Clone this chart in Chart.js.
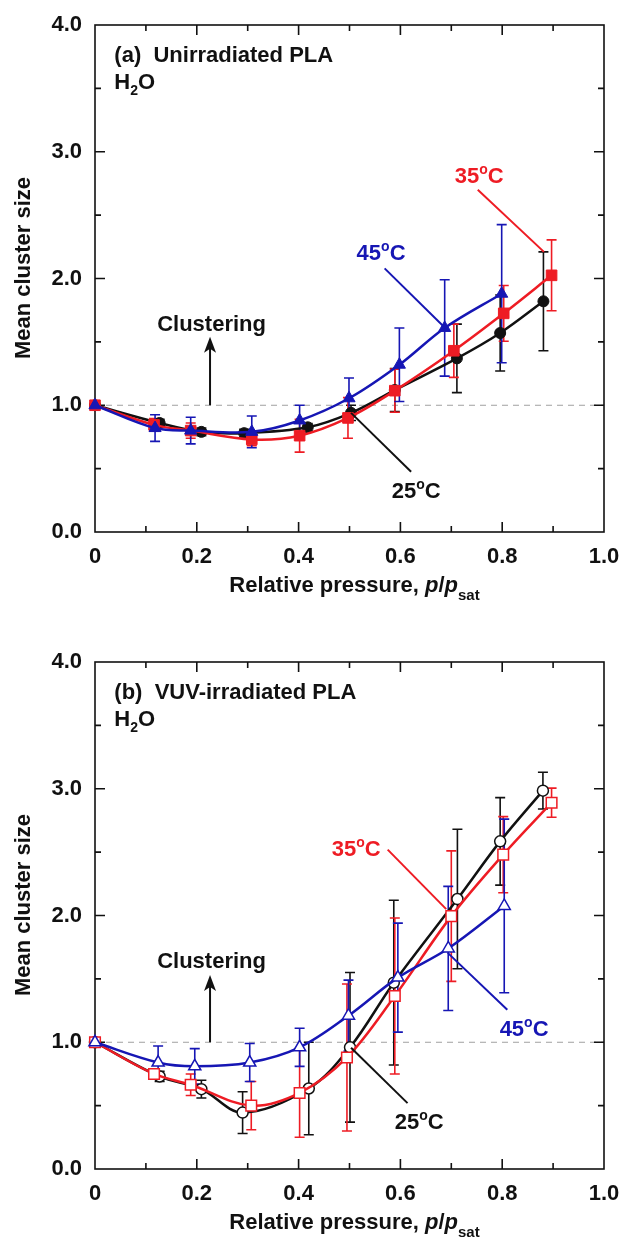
<!DOCTYPE html>
<html>
<head>
<meta charset="utf-8">
<script src="https://cdn.jsdelivr.net/npm/chart.js@4.4.1/dist/chart.umd.min.js"></script>
<style>
  body { margin: 0; background: #fff; }
  #wrap { position: relative; width: 624px; height: 1239px; }
  canvas { position: absolute; left: 0; }
</style>
</head>
<body>
<div id="wrap">
  <canvas id="chartA" width="624" height="620" style="top:0"></canvas>
  <canvas id="chartB" width="624" height="619" style="top:620px"></canvas>
</div>
<script>
// ---- tick labels ----
const xTicks = [0, 0.2, 0.4, 0.6, 0.8, 1.0];
const yTicks = [0, 1, 2, 3, 4];

// ---- (a) unirradiated PLA ----
const x25a = [0, 0.127, 0.209, 0.293, 0.418, 0.503, 0.589, 0.711, 0.796, 0.881];
const y25a = [1.0, 0.86, 0.79, 0.78, 0.826, 0.94, 1.12, 1.37, 1.57, 1.82];
const e25a = [0, 0.03, 0.03, 0.03, 0.03, 0.06, 0.17, 0.27, 0.30, 0.39];

const x35a = [0, 0.116, 0.188, 0.308, 0.402, 0.497, 0.589, 0.705, 0.803, 0.897];
const y35a = [1.0, 0.845, 0.80, 0.73, 0.76, 0.90, 1.115, 1.43, 1.725, 2.025];
const e35a = [0, 0.05, 0.06, 0.05, 0.13, 0.16, 0.17, 0.21, 0.22, 0.28];

const x45a = [0, 0.118, 0.188, 0.308, 0.402, 0.499, 0.598, 0.687, 0.799];
const y45a = [1.0, 0.82, 0.80, 0.79, 0.88, 1.055, 1.32, 1.61, 1.88];
const e45a = [0, 0.105, 0.105, 0.125, 0.12, 0.16, 0.29, 0.38, 0.545];

// ---- (b) VUV-irradiated PLA ----
const x25b = [0, 0.127, 0.209, 0.29, 0.42, 0.501, 0.587, 0.712, 0.796, 0.88];
const y25b = [1.0, 0.73, 0.63, 0.445, 0.635, 0.96, 1.47, 2.13, 2.585, 2.985];
const e25b = [0, 0.04, 0.07, 0.165, 0.365, 0.59, 0.65, 0.55, 0.345, 0.145];

const x35b = [0, 0.116, 0.188, 0.307, 0.402, 0.495, 0.589, 0.70, 0.802, 0.897];
const y35b = [1.0, 0.75, 0.665, 0.50, 0.60, 0.88, 1.365, 1.995, 2.48, 2.89];
const e35b = [0, 0.03, 0.085, 0.19, 0.35, 0.58, 0.615, 0.515, 0.30, 0.115];

const x45b = [0, 0.124, 0.196, 0.304, 0.402, 0.498, 0.595, 0.694, 0.804];
const y45b = [1.0, 0.84, 0.81, 0.84, 0.96, 1.21, 1.51, 1.74, 2.075];
const e45b = [0, 0.13, 0.14, 0.15, 0.15, 0.28, 0.43, 0.49, 0.685];

const BLACK = '#111111', RED = '#ee1c24', BLUE = '#1616b4';
const FONT = '"Liberation Sans", Arial, sans-serif';
const F = (s, style) => (style || '') + ' bold ' + s + 'px ' + FONT;

function pts(xs, ys) { return xs.map((x, i) => ({ x: x, y: ys[i] })); }

function series(label, xs, ys, err, color, style, radius, open, order) {
  return {
    label: label,
    data: pts(xs, ys),
    err: err,
    order: order,
    borderColor: color,
    backgroundColor: color,
    borderWidth: 2.5,
    tension: 0.35,
    pointStyle: style,
    pointRadius: radius,
    pointHoverRadius: radius,
    pointBackgroundColor: open ? '#ffffff' : color,
    pointBorderColor: color,
    pointBorderWidth: open ? 1.5 : 1,
    clip: false
  };
}

// draws runs of text with different fonts / offsets on one baseline
function richText(ctx, parts, x, y, align) {
  let w = 0;
  parts.forEach(p => { ctx.font = p.f; p.w = ctx.measureText(p.t).width; w += p.w; });
  let cx = align === 'center' ? x - w / 2 : x;
  ctx.textAlign = 'left';
  ctx.textBaseline = 'alphabetic';
  parts.forEach(p => { ctx.font = p.f; ctx.fillText(p.t, cx, y + (p.dy || 0)); cx += p.w; });
}

function degLabel(num) {
  return [{ t: num, f: F(22) }, { t: 'o', f: F(14), dy: -9 }, { t: 'C', f: F(22) }];
}

const framePlugin = {
  id: 'frame',
  beforeDatasetsDraw(chart) {
    const { ctx, chartArea: a, scales: { x, y } } = chart;
    ctx.save();
    // dashed line at mean cluster size = 1
    ctx.strokeStyle = '#a0a0a0';
    ctx.lineWidth = 1;
    ctx.setLineDash([6, 5]);
    const y1 = y.getPixelForValue(1);
    ctx.beginPath(); ctx.moveTo(a.left, y1); ctx.lineTo(a.right, y1); ctx.stroke();
    ctx.setLineDash([]);

    // error bars
    chart.data.datasets.forEach(ds => {
      ctx.strokeStyle = ds.borderColor;
      ctx.lineWidth = 1.6;
      ds.data.forEach((p, i) => {
        const e = ds.err[i];
        if (!e) return;
        const px = x.getPixelForValue(p.x);
        const t = y.getPixelForValue(p.y + e), b = y.getPixelForValue(p.y - e);
        ctx.beginPath();
        ctx.moveTo(px, t); ctx.lineTo(px, b);
        ctx.moveTo(px - 5, t); ctx.lineTo(px + 5, t);
        ctx.moveTo(px - 5, b); ctx.lineTo(px + 5, b);
        ctx.stroke();
      });
    });

    // frame and inward ticks on all four sides
    ctx.strokeStyle = '#111';
    ctx.lineWidth = 1.6;
    ctx.strokeRect(a.left, a.top, a.right - a.left, a.bottom - a.top);
    ctx.beginPath();
    for (let i = 1; i < 10; i++) {
      const px = x.getPixelForValue(i / 10);
      const len = i % 2 === 0 ? 10 : 6;
      ctx.moveTo(px, a.bottom); ctx.lineTo(px, a.bottom - len);
      ctx.moveTo(px, a.top); ctx.lineTo(px, a.top + len);
    }
    for (let i = 1; i < 8; i++) {
      const py = y.getPixelForValue(i / 2);
      const len = i % 2 === 0 ? 10 : 6;
      ctx.moveTo(a.left, py); ctx.lineTo(a.left + len, py);
      ctx.moveTo(a.right, py); ctx.lineTo(a.right - len, py);
    }
    ctx.stroke();
    ctx.restore();
  },
  afterDatasetsDraw(chart) {
    const { ctx, chartArea: a, scales: { x, y } } = chart;
    const opt = chart.options.plugins.frame;
    const X = v => x.getPixelForValue(v), Y = v => y.getPixelForValue(v);
    ctx.save();
    ctx.fillStyle = '#111';

    // panel heading
    richText(ctx, [{ t: opt.heading, f: F(22) }], X(0.038), Y(3.775) + 8, 'left');
    richText(ctx, [{ t: 'H', f: F(22) }, { t: '2', f: F(14), dy: 6 }, { t: 'O', f: F(22) }],
      X(0.038), Y(3.56) + 8, 'left');

    // clustering arrow
    richText(ctx, [{ t: 'Clustering', f: F(22) }], X(0.229), Y(1.65) + 8, 'center');
    ctx.strokeStyle = '#111';
    ctx.lineWidth = 2;
    const ax = X(0.226), tip = Y(opt.arrowTip);
    ctx.beginPath(); ctx.moveTo(ax, Y(1)); ctx.lineTo(ax, tip + 4); ctx.stroke();
    ctx.beginPath();
    ctx.moveTo(ax, tip); ctx.lineTo(ax - 6, tip + 16); ctx.lineTo(ax, tip + 12); ctx.lineTo(ax + 6, tip + 16);
    ctx.closePath(); ctx.fill();

    // temperature labels with leader lines
    opt.labels.forEach(l => {
      ctx.strokeStyle = l.color;
      ctx.fillStyle = l.color;
      ctx.lineWidth = 2;
      ctx.beginPath(); ctx.moveTo(X(l.from[0]), Y(l.from[1])); ctx.lineTo(X(l.to[0]), Y(l.to[1])); ctx.stroke();
      richText(ctx, degLabel(l.text), X(l.at[0]), Y(l.at[1]) + 8, 'center');
    });

    // axis titles
    ctx.fillStyle = '#111';
    richText(ctx, [
      { t: 'Relative pressure, ', f: F(22) },
      { t: 'p', f: F(22, 'italic') }, { t: '/', f: F(22) }, { t: 'p', f: F(22, 'italic') },
      { t: 'sat', f: F(15), dy: 8 }
    ], (a.left + a.right) / 2 + 5, a.bottom + 60, 'center');
    ctx.translate(22, a.top + 243);
    ctx.rotate(-Math.PI / 2);
    richText(ctx, [{ t: 'Mean cluster size', f: F(22) }], 0, 8, 'center');
    ctx.restore();
  }
};

function makePanel(id, datasets, opt, padTop, axisH) {
  return new Chart(document.getElementById(id), {
    type: 'line',
    data: { datasets: datasets },
    plugins: [framePlugin],
    options: {
      responsive: false,
      animation: false,
      devicePixelRatio: 1,
      layout: { padding: { left: 0, right: 20, top: padTop, bottom: 0 } },
      plugins: { legend: { display: false }, tooltip: { enabled: false }, frame: opt },
      scales: {
        x: {
          type: 'linear', min: 0, max: 1,
          grid: { display: false, drawTicks: false },
          border: { display: false },
          afterBuildTicks: s => { s.ticks = xTicks.map(v => ({ value: v })); },
          afterFit: s => { s.height = axisH; s.paddingLeft = 0; s.paddingRight = 0; },
          ticks: {
            autoSkip: false, maxRotation: 0, padding: 12, color: '#111',
            font: { family: FONT, size: 22, weight: 'bold' },
            callback: v => (v === 0 ? '0' : v.toFixed(1))
          }
        },
        y: {
          type: 'linear', min: 0, max: 4,
          grid: { display: false, drawTicks: false },
          border: { display: false },
          afterBuildTicks: s => { s.ticks = yTicks.map(v => ({ value: v })); },
          afterFit: s => { s.width = 95; s.paddingTop = 0; s.paddingBottom = 0; },
          ticks: {
            padding: 13, color: '#111',
            font: { family: FONT, size: 22, weight: 'bold' },
            callback: v => v.toFixed(1)
          }
        }
      }
    }
  });
}

makePanel('chartA', [
  series('25°C', x25a, y25a, e25a, BLACK, 'circle', 5.5, false, 2),
  series('35°C', x35a, y35a, e35a, RED, 'rect', 7.5, false, 1),
  series('45°C', x45a, y45a, e45a, BLUE, 'triangle', 7, false, 0)
], {
  heading: '(a)  Unirradiated PLA',
  arrowTip: 1.54,
  labels: [
    { text: '45', color: BLUE, at: [0.562, 2.21], from: [0.569, 2.08], to: [0.688, 1.61] },
    { text: '35', color: RED, at: [0.755, 2.82], from: [0.752, 2.70], to: [0.882, 2.21] },
    { text: '25', color: BLACK, at: [0.631, 0.33], from: [0.503, 0.94], to: [0.621, 0.475] }
  ]
}, 25, 88);

makePanel('chartB', [
  series('25°C', x25b, y25b, e25b, BLACK, 'circle', 5.5, true, 2),
  series('35°C', x35b, y35b, e35b, RED, 'rect', 7.5, true, 1),
  series('45°C', x45b, y45b, e45b, BLUE, 'triangle', 7, true, 0)
], {
  heading: '(b)  VUV-irradiated PLA',
  arrowTip: 1.53,
  labels: [
    { text: '35', color: RED, at: [0.513, 2.53], from: [0.575, 2.52], to: [0.69, 2.05] },
    { text: '45', color: BLUE, at: [0.843, 1.11], from: [0.693, 1.705], to: [0.81, 1.257] },
    { text: '25', color: BLACK, at: [0.637, 0.375], from: [0.503, 0.957], to: [0.614, 0.52] }
  ]
}, 42, 70);
</script>
</body>
</html>
